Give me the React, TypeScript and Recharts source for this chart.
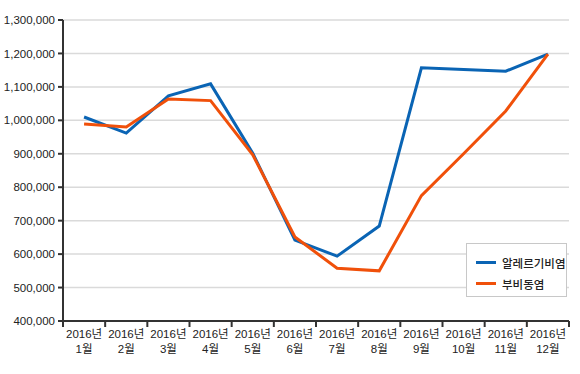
import React from 'react';
import {
  LineChart,
  Line,
  XAxis,
  YAxis,
  CartesianGrid,
  Legend,
} from 'recharts';

const months = ['1월', '2월', '3월', '4월', '5월', '6월', '7월', '8월', '9월', '10월', '11월', '12월'];
const yearLabel = '2016년';
const rhinitis = [1010000, 962000, 1073000, 1109000, 902000, 642000, 594000, 684000, 1157000, 1152000, 1147000, 1198000];
const sinusitis = [989000, 980000, 1064000, 1059000, 897000, 651000, 558000, 550000, 775000, 900000, 1028000, 1198000];
const yTicks = [400000, 500000, 600000, 700000, 800000, 900000, 1000000, 1100000, 1200000, 1300000];

const seriesNames = ['알레르기비염', '부비동염'];
const seriesColors = ['#0a64b4', '#f0500a'];

const data = months.map((m, i) => ({
  name: m,
  rhinitis: rhinitis[i],
  sinusitis: sinusitis[i],
}));

const FONT = "'Liberation Sans', Arial, 'Noto Sans CJK KR', sans-serif";
const WIDTH = 580;
const HEIGHT = 374;
const MARGIN = { top: 20, right: 11, left: 0, bottom: 13 };
const Y_WIDTH = 63;
const BAND = (WIDTH - MARGIN.right - Y_WIDTH) / months.length;

function MonthTick(props: any) {
  const { x, y, payload, index } = props;
  const half = BAND / 2;
  return (
    <g>
      <line x1={x - half} y1={y} x2={x - half} y2={y + 6} stroke="#333" strokeWidth={2} />
      {index === months.length - 1 && (
        <line x1={x + half} y1={y} x2={x + half} y2={y + 6} stroke="#333" strokeWidth={2} />
      )}
      <text x={x} y={y + 17} textAnchor="middle" fill="#222" fontSize={11.5} fontFamily={FONT}>
        {yearLabel}
      </text>
      <text x={x} y={y + 32} textAnchor="middle" fill="#222" fontSize={11.5} fontFamily={FONT}>
        {payload.value}
      </text>
    </g>
  );
}

function LegendBox() {
  return (
    <div
      style={{
        width: 101,
        height: 54,
        border: '1px solid #c8c8c8',
        background: '#fff',
        boxSizing: 'border-box',
        fontFamily: "'Noto Sans CJK KR', sans-serif",
        fontSize: 11.5,
        fontWeight: 500,
        color: '#222',
        paddingTop: 8,
      }}
    >
      {seriesNames.map((n, i) => (
        <div key={n} style={{ display: 'flex', alignItems: 'center', height: 21, paddingLeft: 9 }}>
          <span style={{ display: 'inline-block', width: 20, height: 3, background: seriesColors[i], marginRight: 6 }} />
          <span>{n}</span>
        </div>
      ))}
    </div>
  );
}

export default function App() {
  return (
    <div style={{ position: 'absolute', left: 0, top: 0, width: WIDTH, height: HEIGHT, background: '#fff' }}>
      <LineChart width={WIDTH} height={HEIGHT} data={data} margin={MARGIN}>
        <CartesianGrid vertical={false} stroke="#dadada" strokeWidth={1.5} />
        <XAxis
          dataKey="name"
          scale="band"
          height={40}
          axisLine={{ stroke: '#333', strokeWidth: 2 }}
          tickLine={false}
          tickSize={0}
          tickMargin={0}
          interval={0}
          tick={<MonthTick />}
        />
        <YAxis
          width={Y_WIDTH}
          domain={[400000, 1300000]}
          ticks={yTicks}
          interval={0}
          axisLine={{ stroke: '#333', strokeWidth: 2 }}
          tickLine={{ stroke: '#333', strokeWidth: 2 }}
          tickSize={5}
          tickMargin={3}
          tick={{ fill: '#222', fontSize: 11.5, fontFamily: FONT }}
          tickFormatter={(v: number) => v.toLocaleString('en-US')}
        />
        <Legend
          layout="vertical"
          align="center"
          verticalAlign="middle"
          content={<LegendBox />}
          wrapperStyle={{ left: 466, top: 243, width: 101 }}
        />
        <Line
          type="linear"
          dataKey="rhinitis"
          name={seriesNames[0]}
          stroke={seriesColors[0]}
          strokeWidth={3}
          dot={false}
          isAnimationActive={false}
        />
        <Line
          type="linear"
          dataKey="sinusitis"
          name={seriesNames[1]}
          stroke={seriesColors[1]}
          strokeWidth={3}
          dot={false}
          isAnimationActive={false}
        />
      </LineChart>
    </div>
  );
}
